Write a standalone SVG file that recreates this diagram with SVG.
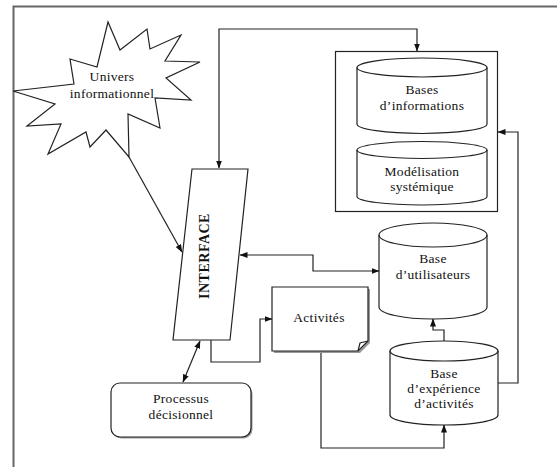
<svg xmlns="http://www.w3.org/2000/svg" width="557" height="467" viewBox="0 0 557 467">
<defs>
<marker id="arr" markerUnits="userSpaceOnUse" markerWidth="9" markerHeight="7" refX="7.5" refY="3" orient="auto-start-reverse">
<path d="M0,0 L8,3 L0,6 z" fill="#111"/>
</marker>
<style>
.sh{fill:#fff;stroke:#222;stroke-width:1.2}
.sd{fill:#999;stroke:none}
.ln{fill:none;stroke:#222;stroke-width:1.2}
.t{font-family:"Liberation Serif","Times New Roman",serif;font-size:13.5px;fill:#111;text-anchor:middle;letter-spacing:0.3px}
.b{font-weight:bold;font-size:14px;letter-spacing:0.5px}
</style>
</defs>
<rect width="557" height="467" fill="#fff"/>
<path d="M13.5,467 V6.5 H557" fill="none" stroke="#666" stroke-width="2"/>

<g id="univers">
<polygon class="sh" points="13,91 74,84 70,59 97,67 108,22 120,50 147,29 150,49 181,35 165,61 200,62 166,78 191,100 155,98 160,128 128,114 129,157 106,130 90,147 86,132 48,154 61,124 27,126 55,104"/>
<text class="t" x="112" y="81">Univers</text>
<text class="t" x="112" y="98">informationnel</text>
</g>

<g id="interface">
<polygon class="sh" points="192,169 248,169 230,340 173,340"/>
<text class="t b" transform="translate(209,256) rotate(-90)" x="0" y="0">INTERFACE</text>
</g>

<g id="bases-groupe">
<rect class="sh" x="335.5" y="51.5" width="162" height="160"/>
</g>

<g id="bases-informations">
<path class="sh" d="M357,67.5 V124 A65,9.5 0 0 0 487,124 V67.5 A65,9.5 0 0 0 357,67.5 Z"/>
<path class="ln" d="M357,67.5 A65,9.5 0 0 0 487,67.5"/>
<text class="t" x="422" y="94">Bases</text>
<text class="t" x="422" y="110">d’informations</text>
</g>

<g id="modelisation">
<path class="sh" d="M357,150 V196.5 A65,8.5 0 0 0 487,196.5 V150 A65,8.5 0 0 0 357,150 Z"/>
<path class="ln" d="M357,150 A65,8.5 0 0 0 487,150"/>
<text class="t" x="422" y="176">Modélisation</text>
<text class="t" x="422" y="191">systémique</text>
</g>

<g id="base-utilisateurs">
<path class="sh" d="M379,235 V307 A54,12 0 0 0 487,307 V235 A54,12 0 0 0 379,235 Z"/>
<path class="ln" d="M379,235 A54,12 0 0 0 487,235"/>
<text class="t" x="433" y="263">Base</text>
<text class="t" x="433" y="279">d’utilisateurs</text>
</g>

<g id="base-experience">
<path class="sh" d="M390,351 V415 A54,10 0 0 0 498,415 V351 A54,10 0 0 0 390,351 Z"/>
<path class="ln" d="M390,351 A54,10 0 0 0 498,351"/>
<text class="t" x="444" y="378">Base</text>
<text class="t" x="444" y="393">d’expérience</text>
<text class="t" x="444" y="408">d’activités</text>
</g>

<g id="activites">
<path class="sd" d="M274,289 H370 V343 L360,353 H274 Z"/>
<path class="sh" d="M272,287 H368 V341 L358,351 H272 Z"/>
<path class="ln" d="M358,351 L360,343 L368,341"/>
<text class="t" x="319" y="322">Activités</text>
</g>

<g id="processus">
<rect class="sd" x="112.5" y="384.5" width="140" height="54" rx="9"/>
<rect class="sh" x="111" y="383" width="140" height="54" rx="9"/>
<text class="t" x="181" y="403">Processus</text>
<text class="t" x="181" y="419">décisionnel</text>
</g>

<g id="connectors">
<path class="ln" d="M219,168 V29 H417 V51" marker-start="url(#arr)" marker-end="url(#arr)"/>
<path class="ln" d="M129,157 L182,252" marker-end="url(#arr)"/>
<path class="ln" d="M240,255 H313 V271 H379" marker-start="url(#arr)" marker-end="url(#arr)"/>
<path class="ln" d="M211,340 V362 H260 V319 H272" marker-end="url(#arr)"/>
<path class="ln" d="M200,341 L183,382" marker-start="url(#arr)" marker-end="url(#arr)"/>
<path class="ln" d="M321,353 V448 H444 V425" marker-end="url(#arr)"/>
<path class="ln" d="M444,341 V330 H433 V319" marker-end="url(#arr)"/>
<path class="ln" d="M498,383 H518 V132 H498" marker-end="url(#arr)"/>
</g>
</svg>
